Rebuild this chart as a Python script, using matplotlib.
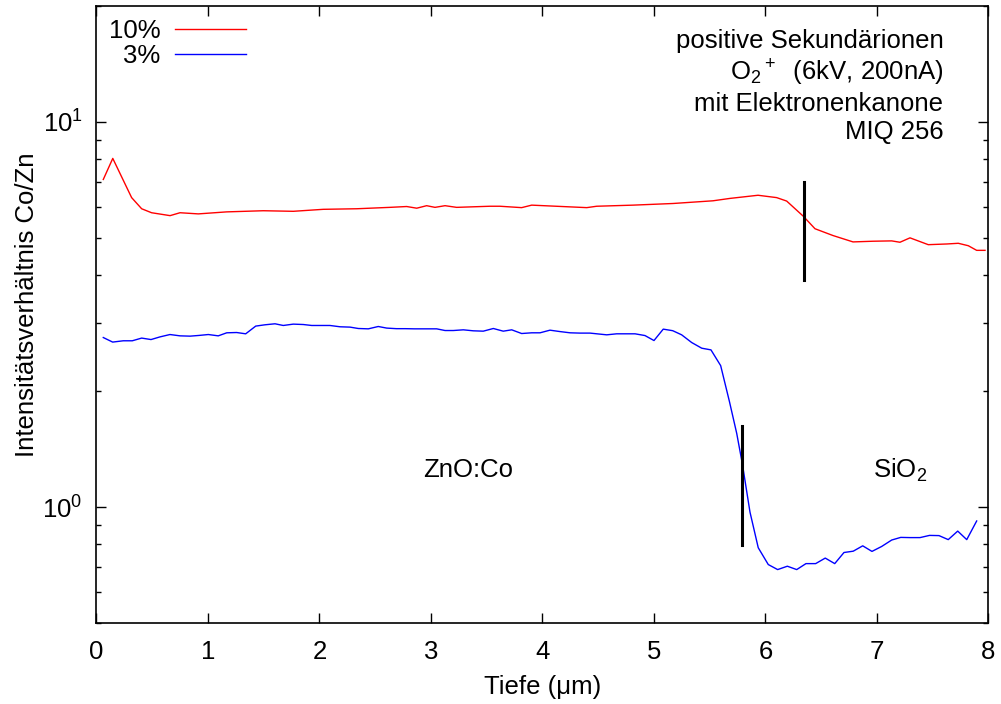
import matplotlib
matplotlib.use("Agg")
import matplotlib.pyplot as plt
from matplotlib.ticker import LogLocator, NullFormatter

plt.rcParams["font.family"] = ["Liberation Sans", "DejaVu Sans"]
plt.rcParams["mathtext.fontset"] = "custom"
plt.rcParams["mathtext.rm"] = "Liberation Sans"
plt.rcParams["mathtext.it"] = "Liberation Sans:italic"
plt.rcParams["mathtext.bf"] = "Liberation Sans:bold"
plt.rcParams["mathtext.sf"] = "Liberation Sans"

FS = 18.5

# Co/Zn depth profile, 10 % Co sample
depth_10 = [0.061, 0.146, 0.315, 0.405, 0.494, 0.660, 0.749, 0.913, 1.168, 1.496,
            1.765, 2.034, 2.334, 2.632, 2.782, 2.872, 2.961, 3.036, 3.126, 3.230,
            3.529, 3.618, 3.813, 3.903, 4.397, 4.486, 4.812, 5.170, 5.529, 5.682,
            5.933, 6.100, 6.190, 6.339, 6.444, 6.605, 6.785, 6.964, 7.132, 7.206,
            7.296, 7.460, 7.625, 7.729, 7.819, 7.894, 7.969]
ratio_10 = [7.09, 8.04, 6.36, 5.95, 5.81, 5.71, 5.81, 5.77, 5.84, 5.88,
            5.86, 5.93, 5.95, 6.00, 6.03, 5.97, 6.06, 6.00, 6.06, 6.00,
            6.04, 6.04, 5.99, 6.08, 5.99, 6.04, 6.08, 6.14, 6.24, 6.33,
            6.45, 6.36, 6.23, 5.69, 5.28, 5.07, 4.88, 4.90, 4.91, 4.87,
            5.00, 4.80, 4.82, 4.84, 4.77, 4.64, 4.64]

# Co/Zn depth profile, 3 % Co sample
depth_3 = [0.061, 0.145, 0.240, 0.321, 0.405, 0.489, 0.570, 0.659, 0.749, 0.839,
           0.920, 1.003, 1.092, 1.168, 1.257, 1.338, 1.428, 1.511, 1.601, 1.675,
           1.765, 1.855, 1.930, 2.094, 2.184, 2.274, 2.348, 2.438, 2.527, 2.603,
           2.690, 2.770, 2.850, 2.931, 3.051, 3.126, 3.200, 3.290, 3.379, 3.469,
           3.559, 3.648, 3.724, 3.813, 3.903, 3.978, 4.067, 4.157, 4.247, 4.336,
           4.426, 4.576, 4.665, 4.830, 4.919, 5.000, 5.083, 5.168, 5.248, 5.338,
           5.428, 5.511, 5.598, 5.677, 5.742, 5.792, 5.861, 5.935, 6.025, 6.109,
           6.196, 6.280, 6.363, 6.450, 6.536, 6.621, 6.704, 6.787, 6.872, 6.955,
           7.042, 7.132, 7.213, 7.296, 7.386, 7.471, 7.556, 7.639, 7.724, 7.805,
           7.894]
ratio_3 = [2.755, 2.681, 2.702, 2.702, 2.746, 2.722, 2.766, 2.805, 2.783, 2.778,
           2.790, 2.805, 2.783, 2.834, 2.839, 2.817, 2.950, 2.973, 2.991, 2.961,
           2.985, 2.978, 2.961, 2.961, 2.938, 2.932, 2.908, 2.902, 2.943, 2.915,
           2.905, 2.905, 2.902, 2.902, 2.902, 2.873, 2.873, 2.885, 2.868, 2.862,
           2.908, 2.862, 2.885, 2.822, 2.834, 2.834, 2.879, 2.855, 2.834, 2.829,
           2.829, 2.800, 2.817, 2.817, 2.788, 2.706, 2.897, 2.870, 2.800, 2.674,
           2.585, 2.559, 2.329, 1.877, 1.553, 1.297, 0.970, 0.784, 0.709, 0.688,
           0.702, 0.688, 0.713, 0.713, 0.737, 0.713, 0.762, 0.768, 0.793, 0.767,
           0.790, 0.821, 0.834, 0.833, 0.833, 0.844, 0.843, 0.823, 0.866, 0.823,
           0.920]

# Interface markers: (depth, lower ratio, upper ratio)
interface_10 = (6.345, 3.89, 6.98)
interface_3 = (5.792, 0.795, 1.623)

fig = plt.figure(figsize=(10.01, 7.04), dpi=100)
ax = fig.add_axes([0.0964, 0.1151, 0.8911, 0.8764])

ax.plot(depth_10, ratio_10, color="#ff0000", lw=1.0, label="10%")
ax.plot(depth_3, ratio_3, color="#0000ff", lw=1.0, label="3%")

for d, lo, hi in (interface_10, interface_3):
    ax.plot([d, d], [lo, hi], color="black", lw=2.2)

ax.set_yscale("log")
ax.set_xlim(0, 8)
ax.set_ylim(0.5, 20)
ax.set_xticks(range(0, 9))
ax.yaxis.set_major_locator(LogLocator(base=10, numticks=10))
ax.yaxis.set_minor_locator(LogLocator(base=10, subs=range(2, 10), numticks=20))
ax.yaxis.set_minor_formatter(NullFormatter())

ax.tick_params(which="both", direction="in", top=True, right=True, width=1.0)
ax.tick_params(which="major", length=7, labelsize=FS)
ax.tick_params(which="minor", length=3.6)
ax.tick_params(axis="x", pad=12)
ax.tick_params(axis="y", pad=10)
for s in ax.spines.values():
    s.set_linewidth(1.2)

ax.set_xlabel("Tiefe (μm)", fontsize=FS, labelpad=8)
ax.set_ylabel("Intensitätsverhältnis Co/Zn", fontsize=FS)
ax.yaxis.set_label_coords(-0.0646, 0.515)

ax.text(3.33, 1.246, "ZnO:Co", fontsize=FS, ha="center", va="center")
ax.text(6.96, 1.246, "SiO$_2$", fontsize=FS, ha="left", va="center")

ax.text(0.9495, 0.962,
        "positive Sekundärionen\nO$_2{}^+$  (6kV, 200nA)\nmit Elektronenkanone\nMIQ 256",
        transform=ax.transAxes, fontsize=FS, ha="right", va="top",
        linespacing=1.2)

leg = ax.legend(loc="upper left", bbox_to_anchor=(-0.0034, 1.0032), frameon=False,
                markerfirst=False, fontsize=FS, handlelength=2.76,
                handletextpad=0.58, labelspacing=0.03, borderaxespad=0.2)

fig.savefig("out.png", dpi=100)
